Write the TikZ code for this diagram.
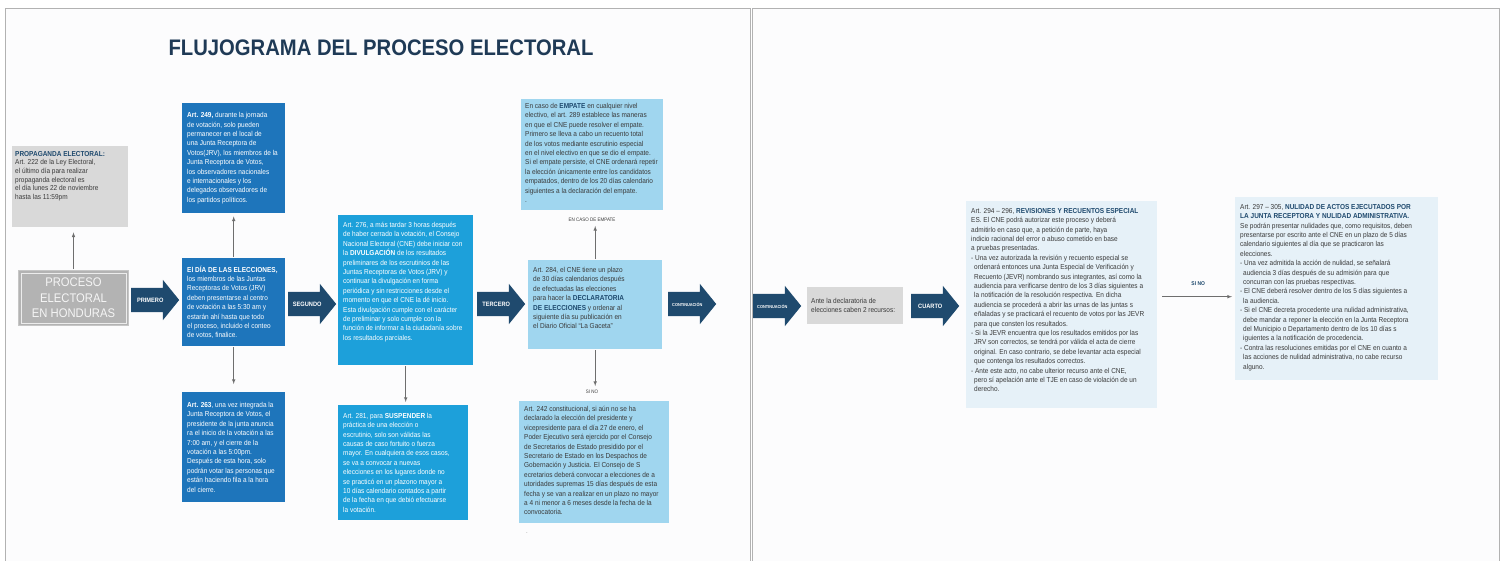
\documentclass[tikz,border=0pt]{standalone}
\usepackage{fontspec}
\setmainfont{Liberation Sans}[FakeStretch=0.9]
\usepackage{tikz}
\usetikzlibrary{positioning, calc, shapes.arrows}
\definecolor{azulosc}{HTML}{1E75BB}
\definecolor{azulmed}{HTML}{1DA0DA}
\definecolor{azulcla}{HTML}{A0D6EF}
\definecolor{azulpal}{HTML}{E6F1F8}
\definecolor{marino}{HTML}{1F4A6E}
\definecolor{titulo}{HTML}{1F3A56}
\definecolor{grisbox}{HTML}{D9D9D9}
\definecolor{grisproc}{HTML}{B3B3B3}
\definecolor{gristxt}{HTML}{3A3A3A}
\definecolor{grislinea}{HTML}{6E6E6E}
\definecolor{fondo}{HTML}{FCFCFD}

% text block of fixed size inside a box
\newcommand{\caja}[4][t]{\parbox[t][#3][#1]{#2}{#4}}
\newcommand{\resalta}[1]{\textbf{\color{marino}#1}}
\newcommand{\sangria}{\hspace*{3pt}}

\begin{document}
\begin{tikzpicture}[x=1pt, y=-1pt,
	caja/.style={rectangle, anchor=north west, inner xsep=5pt, inner ysep=6pt,
	             font=\fontsize{7.2}{9.4}\selectfont},
	oscura/.style={caja, fill=azulosc, text=white},
	media/.style={caja, fill=azulmed, text=white},
	clara/.style={caja, fill=azulcla, text=gristxt},
	palida/.style={caja, fill=azulpal, text=gristxt},
	gris/.style={caja, fill=grisbox, text=gristxt},
	paso/.style={single arrow, anchor=tail, fill=marino, text=white,
	             font=\fontsize{6.3}{6.3}\selectfont\bfseries,
	             single arrow head extend=8pt, single arrow tip angle=102,
	             minimum height=48pt, text height=4pt, text depth=0pt,
	             inner ysep=10pt, inner xsep=2pt},
	flecha/.style={->, draw=grislinea, >=latex, line width=0.6pt,
	               shorten >=3pt, shorten <=1pt},
	etiqueta/.style={font=\fontsize{5}{6}\selectfont, text=gristxt, inner sep=1pt}]

	\useasboundingbox (0,0) rectangle (1502,560);
	\draw[draw=gray!60, fill=fondo] (5,8) rectangle (750,575);
	\draw[draw=gray!60, fill=fondo] (752,8) rectangle (1499,575);

	\node[font=\fontsize{22.5}{24}\selectfont\bfseries, text=titulo] (titulo) at (381,48) {FLUJOGRAMA DEL PROCESO ELECTORAL};

	% left column
	\node[gris, inner xsep=3pt, inner ysep=5pt, font=\fontsize{7.2}{8.6}\selectfont] (propaganda) at (12,146)
		{\caja{110pt}{71pt}{\resalta{PROPAGANDA ELECTORAL:}\\ Art. 222 de la Ley Electoral,\\ el último día para realizar\\ \ propaganda electoral es\\ el día lunes 22 de noviembre\\ hasta las 11:59pm}};
	\node[rectangle, anchor=north west, minimum width=110pt, minimum height=55pt, fill=grisproc,
	      draw=gray!45, line width=1pt, text=white!92!gray, align=center,
	      font=\fontsize{12.5}{15.5}\selectfont] (proceso) at (18,270) {PROCESO\\ ELECTORAL\\ EN HONDURAS};
	\draw[draw=white!85!gray, line width=0.8pt] ($(proceso.north west)+(3,3)$) rectangle ($(proceso.south east)+(-3,-3)$);

	\node[paso] (primero) at (131,300) {PRIMERO};

	\node[oscura] (art249) at (182,103)
		{\caja[c]{93pt}{98pt}{\textbf{Art. 249,} durante la jornada\\ de votación, solo pueden\\ permanecer en el local de\\ una Junta Receptora de\\ Votos(JRV), los miembros de la\\ Junta Receptora de Votos,\\ los observadores nacionales\\ e internacionales y los\\ delegados observadores de\\ los partidos políticos.}};
	\node[oscura] (eldia) at (182,258)
		{\caja[c]{93pt}{76pt}{\textbf{El DÍA DE LAS ELECCIONES,}\\ los miembros de las Juntas\\ Receptoras de Votos (JRV)\\ deben presentarse al centro\\ de votación a las 5:30 am y\\ estarán ahí hasta que todo\\ el proceso, incluido el conteo\\ de votos, finalice.}};
	\node[oscura] (art263) at (182,392)
		{\caja[c]{93pt}{98pt}{\textbf{Art. 263}, una vez integrada la\\ Junta Receptora de Votos, el\\ presidente de la junta anuncia\\ ra el inicio de la votación a las\\ \ 7:00 am, y el cierre de la\\ votación a las 5:00pm.\\ Después de esta hora, solo\\ podrán votar las personas que\\ \ están haciendo fila a la hora\\ del cierre.}};

	\node[paso] (segundo) at (288,304) {SEGUNDO};

	\node[media, inner ysep=7pt] (art276) at (338,215)
		{\caja{125pt}{136pt}{Art. 276, a más tardar 3 horas después\\ de haber cerrado la votación, el Consejo\\ Nacional Electoral (CNE) debe iniciar con\\ la \textbf{DIVULGACIÓN} de los resultados\\ preliminares de los escrutinios de las\\ Juntas Receptoras de Votos (JRV) y\\ continuar la divulgación en forma\\ periódica y sin restricciones desde el\\ momento en que el CNE la dé inicio.\\ Esta divulgación cumple con el carácter\\ de preliminar y solo cumple con la\\ función de informar a la ciudadanía sobre\\ los resultados parciales.}};
	\node[media] (art281) at (338,405)
		{\caja[c]{120pt}{103pt}{Art. 281, para \textbf{SUSPENDER} la\\ práctica de una elección o\\ escrutinio, solo son válidas las\\ causas de caso fortuito o fuerza\\ mayor. En cualquiera de esos casos,\\ se va a convocar a nuevas\\ elecciones en los lugares donde no\\ se practicó en un plazono mayor a\\ 10 días calendario contados a partir\\ de la fecha en que debió efectuarse\\ la votación.}};

	\node[paso] (tercero) at (477,304) {TERCERO};

	\node[clara, inner xsep=4pt, inner ysep=4pt] (empate) at (521,99)
		{\caja{134pt}{103pt}{En caso de \resalta{EMPATE} en cualquier nivel\\ electivo, el art. 289 establece las maneras\\ en que el CNE puede resolver el empate.\\ Primero se lleva a cabo un recuento total\\ de los votos mediante escrutinio especial\\ en el nivel electivo en que se dio el empate.\\ Si el empate persiste, el CNE ordenará repetir\\ \ la elección únicamente entre los candidatos\\ empatados, dentro de los 20 días calendario\\ siguientes a la declaración del empate.\\ .}};
	\node[etiqueta] (lblEmpate) at (592,220) {EN CASO DE EMPATE};
	\node[clara, inner ysep=7pt] (art284) at (528,260)
		{\caja{124pt}{75pt}{Art. 284, el CNE tiene un plazo\\ de 30 días calendarios después\\ \ de efectuadas las elecciones\\ para hacer la \resalta{DECLARATORIA}\\ \resalta{DE ELECCIONES} y ordenar al\\ siguiente día su publicación en\\ el Diario Oficial “La Gaceta”}};
	\node[etiqueta] (lblSiNo) at (592,392) {SI NO};
	\node[clara, inner ysep=5pt] (art242) at (519,401)
		{\caja{140pt}{112pt}{Art. 242 constitucional, si aún no se ha\\ declarado la elección del presidente y\\ vicepresidente para el día 27 de enero, el\\ Poder Ejecutivo será ejercido por el Consejo\\ de Secretarios de Estado presidido por el\\ Secretario de Estado en los Despachos de\\ Gobernación y Justicia. El Consejo de S\\ ecretarios deberá convocar a elecciones de a\\ utoridades supremas 15 días después de esta\\ fecha y se van a realizar en un plazo no mayor\\ a 4 ni menor a 6 meses desde la fecha de la\\ convocatoria.}};
	\node[etiqueta] (punto) at (527,533) {.};

	\node[paso, font=\fontsize{4.3}{4.3}\selectfont\bfseries] (continua) at (668,304) {CONTINUACIÓN};

	% right panel
	\node[paso, font=\fontsize{4.3}{4.3}\selectfont\bfseries] (continuaB) at (753,306) {CONTINUACIÓN};
	\node[gris, inner xsep=4pt, inner ysep=3pt] (ante) at (807,287)
		{\caja[c]{88pt}{31pt}{Ante la declaratoria de\\ elecciones caben 2 recursos:}};
	\node[paso] (cuarto) at (911,306) {CUARTO};

	\node[palida, inner ysep=7pt] (revisiones) at (966,201)
		{\caja{181pt}{193pt}{Art. 294 – 296, \resalta{REVISIONES Y RECUENTOS ESPECIAL}\\ ES. El CNE podrá autorizar este proceso y deberá\\ admitirlo en caso que, a petición de parte, haya\\ indicio racional del error o abuso cometido en base\\ a pruebas presentadas.\\ - Una vez autorizada la revisión y recuento especial se\\ \sangria ordenará entonces una Junta Especial de Verificación y\\ \sangria Recuento (JEVR) nombrando sus integrantes, así como la\\ \sangria audiencia para verificarse dentro de los 3 días siguientes a\\ \sangria la notificación de la resolución respectiva. En dicha\\ \sangria audiencia se procederá a abrir las urnas de las juntas s\\ \sangria eñaladas y se practicará el recuento de votos por las JEVR\\ \sangria para que consten los resultados.\\ - Si la JEVR encuentra que los resultados emitidos por las\\ \sangria JRV son correctos, se tendrá por válida el acta de cierre\\ \sangria original. En caso contrario, se debe levantar acta especial\\ \sangria que contenga los resultados correctos.\\ - Ante este acto, no cabe ulterior recurso ante el CNE,\\ \sangria pero sí apelación ante el TJE en caso de violación de un\\ \sangria derecho.}};
	\node[palida, inner ysep=7pt] (nulidad) at (1235,197)
		{\caja{193pt}{169pt}{Art. 297 – 305, \resalta{NULIDAD DE ACTOS EJECUTADOS POR}\\ \resalta{LA JUNTA RECEPTORA Y NULIDAD ADMINISTRATIVA.}\\ Se podrán presentar nulidades que, como requisitos, deben\\ presentarse por escrito ante el CNE en un plazo de 5 días\\ calendario siguientes al día que se practicaron las\\ elecciones.\\ - Una vez admitida la acción de nulidad, se señalará\\ \sangria audiencia 3 días después de su admisión para que\\ \sangria concurran con las pruebas respectivas.\\ - El CNE deberá resolver dentro de los 5 días siguientes a\\ \sangria la audiencia.\\ - Si el CNE decreta procedente una nulidad administrativa,\\ \sangria debe mandar a reponer la elección en la Junta Receptora\\ \sangria del Municipio o Departamento dentro de los 10 días s\\ \sangria iguientes a la notificación de procedencia.\\ - Contra las resoluciones emitidas por el CNE en cuanto a\\ \sangria las acciones de nulidad administrativa, no cabe recurso\\ \sangria alguno.}};

	% connectors
	\draw[flecha, shorten >=5pt] (proceso.north) -- (proceso.north |- propaganda.south);
	\draw[flecha] (eldia.north) -- (art249.south);
	\draw[flecha, shorten >=8pt] (eldia.south) -- (art263.north);
	\draw[flecha] (art276.south) -- (art276.south |- art281.north);
	\draw[flecha] (art284.north) -- (art284.north |- lblEmpate.south);
	\draw[flecha] (art284.south) -- (art284.south |- lblSiNo.north);
	\draw[flecha] ($(revisiones.east)+(4,-8)$) coordinate (sinoIni) -- (sinoIni -| nulidad.west)
		node[midway, above=8pt, font=\fontsize{5.5}{6}\selectfont\bfseries, text=marino] (lblSiNoB) {SI NO};
\end{tikzpicture}
\end{document}
